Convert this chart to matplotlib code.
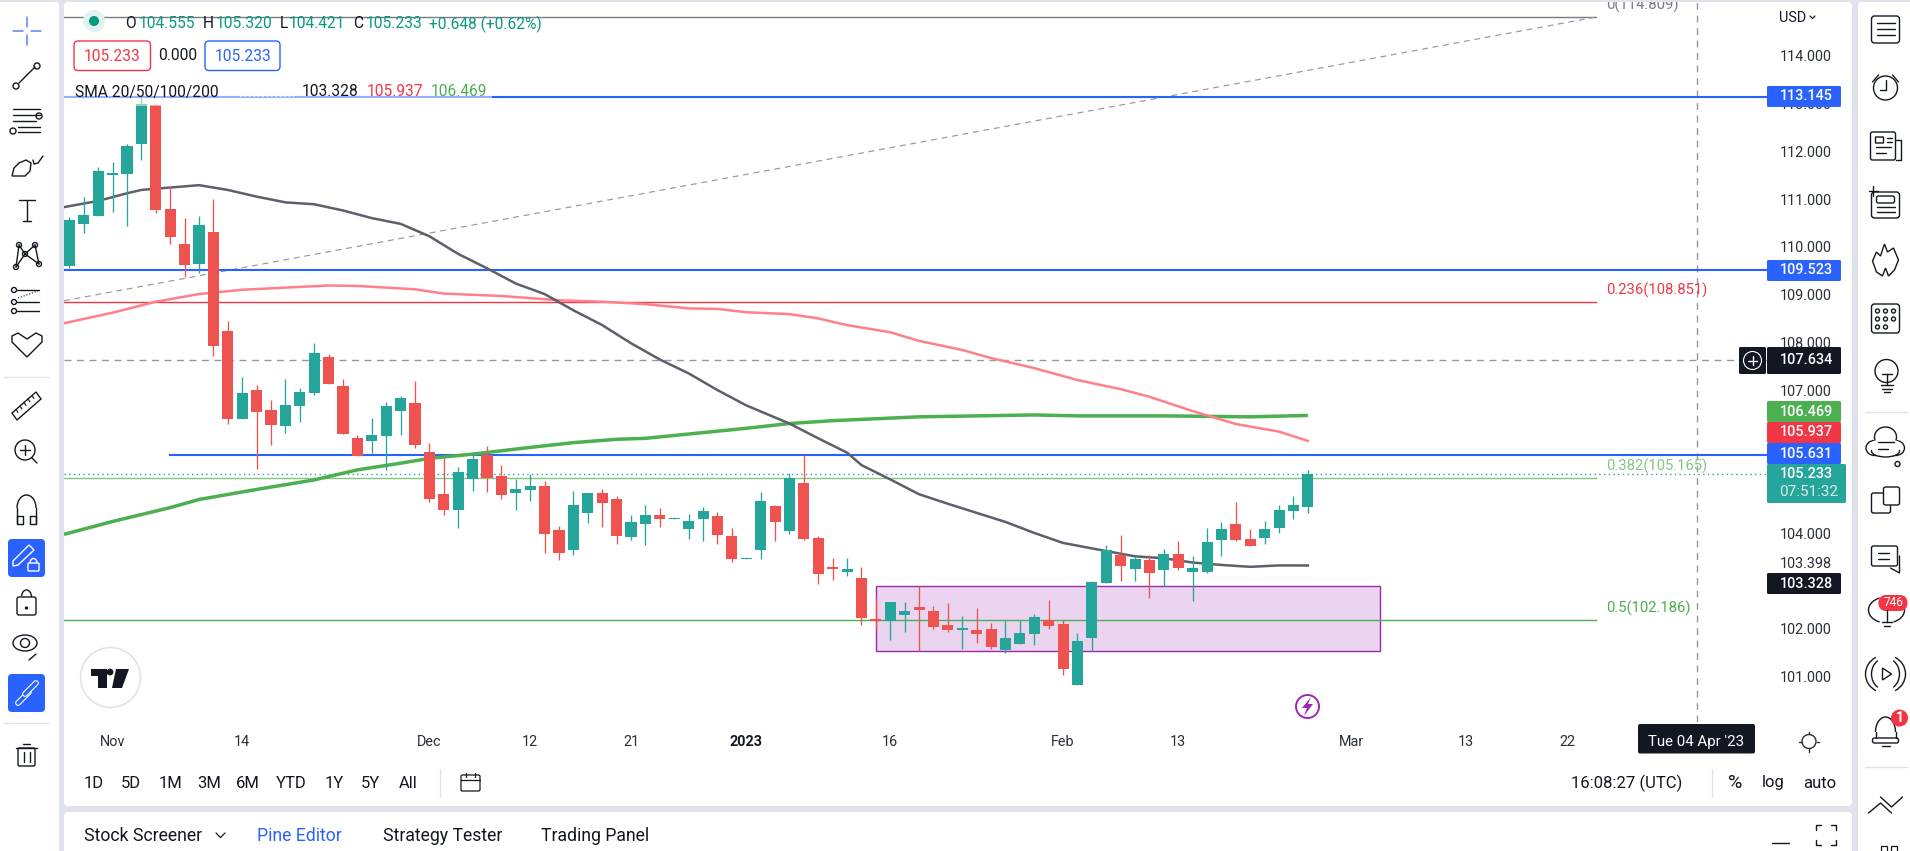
import matplotlib
matplotlib.use('Agg')
import matplotlib.pyplot as plt
from matplotlib.patches import Rectangle, Circle, FancyBboxPatch, Polygon, Arc, Ellipse

W, H = 1910, 851
plt.rcParams['font.family'] = ['Roboto', 'DejaVu Sans']
GREEN = '#26a69a'; RED = '#ef5350'; BLUE = '#2962ff'; INK = '#131722'; GREY = '#787b86'

# daily candles, values
opens = [109.60,110.47,110.64,111.50,111.52,112.15,112.96,110.79,110.06,109.64,110.31,108.24,106.39,107.00,106.58,106.25,106.67,106.94,107.69,107.08,
         105.99,105.93,106.04,106.56,106.73,105.70,104.82,104.49,105.14,105.64,105.20,104.84,104.91,104.99,104.07,103.65,104.43,104.84,104.72,103.92,
         104.20,104.38,104.30,104.09,104.30,104.36,103.94,103.46,103.65,104.57,104.05,105.05,103.90,103.30,103.19,103.06,102.21,102.17,102.29,102.46,
         102.37,102.08,101.98,101.98,102.00,101.56,101.68,101.89,102.19,102.10,100.82,101.81,102.96,103.55,103.25,103.44,103.23,103.57,103.19,103.19,
         103.86,104.20,103.88,103.90,104.11,104.47,104.555]
highs = [110.62,111.04,111.67,111.77,112.15,113.14,112.98,111.27,110.60,110.64,111.00,108.45,107.27,107.10,106.79,107.23,107.04,107.98,107.76,107.23,
         106.06,106.41,106.75,106.87,107.19,105.89,105.58,105.39,105.67,105.83,105.43,105.14,105.24,105.10,104.15,104.89,104.84,104.93,104.78,104.38,
         104.59,104.53,104.32,104.40,104.55,104.45,104.11,103.48,104.87,104.59,105.26,105.64,103.94,103.48,103.48,103.30,102.65,102.56,102.56,102.89,
         102.48,102.54,102.27,102.44,102.12,102.18,102.18,102.31,102.60,102.18,101.91,103.00,103.76,103.97,103.52,103.55,103.67,103.84,103.52,104.11,
         104.24,104.66,104.09,104.26,104.59,104.78,105.320]
lows = [109.55,110.29,110.64,110.73,110.43,111.82,110.71,110.06,109.37,109.45,107.71,106.29,106.39,105.35,105.85,106.10,106.33,106.90,107.13,106.08,
        105.62,105.68,105.33,106.06,105.79,104.66,104.38,104.11,104.89,104.87,104.72,104.49,104.68,103.59,103.44,103.55,104.22,104.13,103.78,103.86,
        103.76,104.13,104.30,103.88,103.84,103.78,103.40,103.46,103.46,103.84,103.99,103.86,102.94,103.02,103.11,102.08,101.98,101.77,101.93,101.53,
        102.00,101.93,101.58,101.70,101.58,101.50,101.68,101.66,102.00,101.03,100.82,101.53,102.96,103.00,103.00,102.65,102.90,103.23,102.58,103.17,
        103.52,103.84,103.73,103.78,104.01,104.30,104.421]
closes = [110.56,110.66,111.59,111.54,112.11,112.98,110.77,110.20,109.62,110.46,107.92,106.39,106.94,106.54,106.27,106.69,106.96,107.77,107.13,106.08,
          105.62,106.06,106.67,106.83,105.85,104.72,104.49,105.28,105.56,105.16,104.80,104.93,104.99,103.99,103.59,104.59,104.84,104.64,103.94,104.24,
          104.38,104.30,104.32,104.26,104.47,103.97,103.46,103.48,104.68,104.24,105.16,103.88,103.15,103.25,103.25,102.23,102.17,102.56,102.37,102.39,
          102.04,101.98,102.02,101.89,101.62,101.81,101.91,102.25,102.06,101.16,101.75,102.98,103.65,103.32,103.46,103.17,103.57,103.27,103.27,103.82,
          104.09,103.86,103.73,104.09,104.49,104.59,105.233]

# moving averages, read at these candle numbers (first point is the pane's left edge)
sma_dark_x = [-0.375,2,4,5,7,9,11,13,15,17,19,21,23,25,27,29,31,33,35,37,39,41,43,45,47,50,52,54,55,57,59,61,63,65,67,69,72,74,76,78,80,82,84,86]
sma_dark = [110.83,110.96,111.12,111.19,111.24,111.29,111.19,111.05,110.93,110.89,110.76,110.60,110.48,110.22,109.85,109.55,109.23,109.01,108.67,108.36,
            107.98,107.64,107.35,107.00,106.68,106.30,105.99,105.69,105.43,105.13,104.82,104.62,104.43,104.24,104.01,103.80,103.63,103.52,103.48,103.39,
            103.34,103.30,103.33,103.328]
sma_red_x = [-0.375,3,6,9,12,16,18,20,24,26,30,34,37,40,43,45,47,50,52,54,57,59,62,64,67,70,73,75,78,81,84,86]
sma_red = [108.40,108.62,108.85,109.01,109.10,109.16,109.19,109.18,109.11,109.02,108.97,108.88,108.85,108.80,108.71,108.70,108.63,108.59,108.50,108.36,
           108.21,108.03,107.84,107.67,107.46,107.21,107.02,106.86,106.56,106.29,106.13,105.937]
sma_green_x = [-0.375,3,7,9,13,17,20,23,25,28,32,35,38,40,47,50,53,59,67,70,76,82,86]
sma_green = [103.98,104.25,104.54,104.71,104.92,105.12,105.33,105.47,105.57,105.66,105.80,105.90,105.97,105.99,106.20,106.30,106.36,106.44,106.48,106.46,106.46,106.44,106.469]

# drawings
blue_levels = [113.145, 109.523, 105.631]
blue_starts = [-0.375, -0.375, 7]
fib_levels = [114.809, 108.851, 105.165, 102.186]
fib_names = ['0(114.809)', '0.236(108.851)', '0.382(105.165)', '0.5(102.186)']
fib_colors = ['#787b86', '#f23645', '#81c784', '#4caf50']
trend_x = [-0.375, 106]
trend_y = [108.87, 114.809]
alert_level = 107.634
last_price = 105.233
box_x = [56, 91]
box_y = [101.53, 102.89]
cursor_x = 113

y_ticks = [114, 113, 112, 111, 110, 109, 108, 107, 104, 103.398, 102, 101]
x_tick_pos = [3, 12, 25, 32, 39, 47, 57, 69, 77, 89, 97, 104]
x_tick_labels = ['Nov', '14', 'Dec', '12', '21', '2023', '16', 'Feb', '13', 'Mar', '13', '22']

fig = plt.figure(figsize=(W/100, H/100), dpi=100, facecolor='#e0e3eb')

def px_axes(z):
    a = fig.add_axes([0, 0, 1, 1], zorder=z)
    a.set_xlim(0, W); a.set_ylim(H, 0); a.axis('off'); a.patch.set_alpha(0)
    return a

bg = px_axes(0)
for x0, y0, x1, y1 in [(-8, 2, 59, 860), (64, 2, 1852, 806), (64, 812, 1852, 860), (1858, 2, 1920, 860)]:
    bg.add_patch(FancyBboxPatch((x0+4, y0+4), x1-x0-8, y1-y0-8, boxstyle='round,pad=4,rounding_size=4', fc='white', ec='none'))

# price chart
ax = fig.add_axes([64/W, 1-722/H, (1767-64)/W, 720/H], zorder=1)
ax.patch.set_alpha(0)
ax.set_xlim(-0.375, 117.88)
ax.set_ylim(114-(722-55.7)/47.77, 114+(55.7-2)/47.77)
for s in ax.spines.values():
    s.set_visible(False)
ax.yaxis.tick_right()
ax.set_yticks(y_ticks, [f'{v:.3f}' for v in y_ticks])
ax.set_xticks(x_tick_pos, x_tick_labels)
ax.tick_params(axis='y', length=0, pad=9.5, labelsize=10.4, labelcolor='#2a2e39')
ax.tick_params(axis='x', length=0, pad=9, labelsize=10.4, labelcolor='#2a2e39')
for t in ax.get_xticklabels():
    if t.get_text() == '2023':
        t.set_fontweight('bold'); t.set_color(INK)

ax.add_patch(Rectangle((box_x[0], box_y[0]), box_x[1]-box_x[0], box_y[1]-box_y[0], fc='#ebd4ef', ec='#9c27b0', lw=1.0, zorder=1))
for lvl, c, nm in zip(fib_levels, fib_colors, fib_names):
    ax.plot([-0.375, 106], [lvl, lvl], color=c, lw=1.0, zorder=2)
    dy = 12 if lvl == 114.809 else 11.5
    ax.annotate(nm, (106, lvl), xytext=(10, dy), textcoords='offset pixels', color=c, fontsize=10.7, va='center', annotation_clip=False, clip_on=True)
ax.plot(trend_x, trend_y, color='#9598a1', lw=0.85, dashes=(5, 4), zorder=2)
ax.axhline(alert_level, color='#9598a1', lw=1.0, dashes=(5, 4), zorder=2)
ax.plot([cursor_x, cursor_x], [ax.get_ylim()[0], ax.get_ylim()[1]], color='#9598a1', lw=1.0, dashes=(5, 4), zorder=2)
ax.axhline(last_price, color=GREEN, lw=1.0, dashes=(1, 2.4), zorder=2)
for lvl, x0 in zip(blue_levels, blue_starts):
    ax.plot([x0, 117.88], [lvl, lvl], color=BLUE, lw=1.5, zorder=3)

ax.plot(sma_green_x, sma_green, color='#4caf50', lw=2.5, zorder=4, solid_capstyle='butt')
ax.plot(sma_red_x, sma_red, color='#ff7f8a', lw=1.8, zorder=4)
ax.plot(sma_dark_x, sma_dark, color='#5d606b', lw=1.8, zorder=4)

idx = list(range(len(opens)))
cols = [GREEN if c >= o else RED for o, c in zip(opens, closes)]
ax.vlines(idx, lows, highs, colors=cols, lw=0.95, zorder=5)
ax.bar(idx, [max(abs(c-o), 0.03) for o, c in zip(opens, closes)], bottom=[min(o, c) for o, c in zip(opens, closes)],
       width=0.77, color=cols, zorder=6)

# everything below is the terminal frame, in screen pixels
ui = px_axes(2)

def txt(x, y, s, c=INK, size=10.4, ha='center', **kw):
    ui.text(x, y, s, color=c, fontsize=size, ha=ha, va='center', **kw)

def ln(xs, ys, c=INK, lw=1.0, **kw):
    ui.plot(xs, ys, color=c, lw=lw, solid_capstyle='round', **kw)

def ring(x, y, r, c=INK, lw=1.0, fc='none'):
    ui.add_patch(Circle((x, y), r, fc=fc, ec=c, lw=lw))

def rbox(x0, y0, x1, y1, fc='none', ec=INK, r=3, lw=1.0):
    ui.add_patch(FancyBboxPatch((x0+r, y0+r), x1-x0-2*r, y1-y0-2*r, boxstyle=f'round,pad={r},rounding_size={r}', fc=fc, ec=ec, lw=lw))

# legend
LEG = 11.2
ui.add_patch(Rectangle((64, 82), 428, 24, fc='white', alpha=0.5, ec='none'))
ln([240, 294], [96, 96], 'white', 1.2, ls=':')
ring(94, 21, 11, 'none', 0, '#dff3ef'); ring(94, 21, 5, 'none', 0, '#089981')
for x, lab, val in [(125.5, 'O', '104.555'), (203, 'H', '105.320'), (279.5, 'L', '104.421'), (353, 'C', '105.233')]:
    txt(x, 24, lab, size=LEG, ha='left'); txt(x+(13 if lab in 'OCH' else 9), 24, val, '#089981', size=LEG, ha='left')
txt(428.5, 24, '+0.648 (+0.62%)', '#089981', size=LEG, ha='left')
rbox(74, 41, 150.5, 70.5, 'white', '#f23645', 4)
txt(112, 56.5, '105.233', '#f23645', size=LEG)
txt(177.5, 56, '0.000', size=LEG)
rbox(205, 41, 280, 70.5, 'white', BLUE, 4)
txt(243, 56.5, '105.233', BLUE, size=LEG)
txt(75, 92, 'SMA 20/50/100/200', size=LEG, ha='left')
txt(302, 92, '103.328', size=LEG, ha='left'); txt(366.5, 92, '105.937', '#f23645', size=LEG, ha='left'); txt(431, 92, '106.469', '#4caf50', size=LEG, ha='left')

# price axis tags
tags = [('113.145', 86, 107, BLUE, 1841), ('109.523', 260, 281, BLUE, 1841), ('106.469', 401, 422, '#4caf50', 1841),
        ('105.937', 422, 443, '#f23645', 1841), ('105.631', 443, 464, BLUE, 1841), ('103.328', 573, 594, INK, 1841)]
for s, y0, y1, c, x1 in tags:
    rbox(1767, y0, x1, y1, c, 'none', 1.5, 0)
    txt(1806.5, (y0+y1)/2, s, 'white', fontweight='medium')
rbox(1767, 347, 1841, 374, INK, 'none', 1.5, 0)
txt(1806.5, 360.5, '107.634', 'white', fontweight='medium')
rbox(1739, 347, 1766, 374, INK, 'none', 1.5, 0)
ring(1752.5, 360.5, 9, 'white', 0.8)
ln([1748, 1757], [360.5, 360.5], 'white'); ln([1752.5, 1752.5], [356, 365], 'white')
rbox(1767, 464, 1846, 503, GREEN, 'none', 1.5, 0)
txt(1806.5, 474.5, '105.233', 'white', fontweight='medium')
txt(1808.5, 492.5, '07:51:32', '#d4efec', size=11)
txt(1779, 17.5, 'USD', ha='left', size=10.4)
ln([1810, 1812.5, 1815], [16, 18.5, 16], INK, 0.9)

# time axis and bottom bar
rbox(1638, 724, 1755, 753.5, INK, 'none', 2, 0)
txt(1696.5, 742, "Tue 04 Apr '23", 'white', size=10.8)
ring(1809, 741.5, 7, '#2a2e39', 1.0)
for dx, dy in [(0, -10), (0, 10), (-10, 0), (10, 0)]:
    ln([1809+dx*0.75, 1809+dx], [741.5+dy*0.75, 741.5+dy], '#2a2e39', 1.0)
for x, s in [(94, '1D'), (131, '5D'), (170, '1M'), (209, '3M'), (248, '6M'), (291, 'YTD'), (334, '1Y'), (370.5, '5Y'), (408, 'All')]:
    txt(x, 783, s, size=12)
ln([439.5, 439.5], [769, 797], '#e0e3eb')
rbox(461, 775, 480, 791, 'none', INK, 1.5, 0.9)
ln([461, 480], [780, 780], INK, 0.9)
ln([466, 466], [772.5, 777], INK, 0.9); ln([475, 475], [772.5, 777], INK, 0.9)
txt(1627, 783, '16:08:27 (UTC)', size=12)
ln([1711.5, 1711.5], [769, 797], '#e0e3eb')
txt(1735, 783, '%', size=14); txt(1773.5, 782, 'log', size=12); txt(1820, 783, 'auto', size=12)
txt(84, 836, 'Stock Screener', ha='left', size=12.7)
ln([216, 220.5, 225], [833, 837.5, 833], INK, 0.9)
txt(257, 836, 'Pine Editor', BLUE, ha='left', size=12.7)
txt(382.5, 836, 'Strategy Tester', ha='left', size=12.7)
txt(541, 836, 'Trading Panel', ha='left', size=12.7)
ln([1772, 1789], [843, 843], INK, 1.0)
for sx, sy in [(-1, -1), (1, -1), (-1, 1), (1, 1)]:
    ln([1825.5+sx*10, 1825.5+sx*10, 1825.5+sx*5], [835+sy*5, 835+sy*10, 835+sy*10], INK, 1.0)

# earnings badge on the chart
ring(1307.5, 706.5, 11.5, '#9c27b0', 1.4, 'white')
ui.add_patch(Polygon([(1311, 697), (1302, 708), (1307, 708), (1304, 716), (1313, 704), (1308, 704)], fc='#9c27b0', ec='none'))

# logo
ring(110.5, 677.5, 30, '#e0e3eb', 1.2, 'white')
ui.add_patch(Polygon([(91, 669), (107, 669), (107, 688), (98, 688), (98, 676), (91, 676)], fc=INK, ec='none'))
ring(110, 672, 3.4, 'none', 0, INK)
ui.add_patch(Polygon([(116, 669), (129, 669), (122, 688), (112, 688)], fc=INK, ec='none'))

# left toolbar
LX = 27
ln([LX, LX], [17, 27], '#5b83f6', 1.1); ln([LX, LX], [35, 45], '#5b83f6', 1.1)
ln([13, 23], [31, 31], '#5b83f6', 1.1); ln([31, 41], [31, 31], '#5b83f6', 1.1)
ln([19, 35], [83, 67]); ring(16, 86, 3, INK, 1.0, 'white'); ring(37, 66, 3, INK, 1.0, 'white')
for y, x0, x1 in [(109, 13, 40), (115, 13, 40), (121, 13, 36), (127, 18, 40), (132, 18, 40)]:
    ln([x0, x1], [y, y])
ring(39, 116, 3, INK, 1.0, 'white'); ring(13, 131, 3, INK, 1.0, 'white')
ui.add_patch(Polygon([(12, 176), (14, 168), (19, 163), (26, 160), (31, 163), (30, 171), (25, 176)], fc='none', ec=INK, lw=1.0))
ln([33, 34, 38, 43], [160, 164, 163, 156])
ln([27, 27], [200, 221]); ln([19, 35], [200, 200]); ln([23, 31], [221, 221])
for (x0, y0), (x1, y1) in [((16, 267), (19, 245)), ((19, 245), (25, 254)), ((25, 254), (35, 245)), ((35, 245), (39, 264)), ((16, 267), (25, 254)), ((25, 254), (39, 264))]:
    ln([x0, x1], [y0, y1])
for x, y in [(16, 267), (19, 245), (25, 254), (35, 245), (39, 264)]:
    ring(x, y, 2.5, INK, 1.0, 'white')
for y in (290, 302, 311):
    ln([17, 39], [y, y]); ring(14, y, 2.5, INK, 1.0, 'white')
ln([18, 38], [298, 291], INK, 0.8, ls=':')
ui.add_patch(Polygon([(27, 357), (12, 342), (12, 336), (18, 333), (27, 339), (36, 333), (42, 336), (42, 342)], fc='none', ec=INK, lw=1.0))
ln([4, 49], [377, 377], '#e0e3eb')
ui.add_patch(Polygon([(12, 413), (36, 392), (41, 399), (17, 420)], fc='none', ec=INK, lw=1.0))
for k in range(1, 6):
    ln([12+4*k, 14+4*k], [413-3.5*k, 416-3.5*k], INK, 0.8)
ring(25, 450, 10); ln([32, 37], [458, 463]); ln([20, 30], [450, 450]); ln([25, 25], [445, 455])
ln([17, 17], [523, 508]); ln([36, 36], [523, 508])
ui.add_patch(Arc((26.5, 508), 19, 26, theta1=180, theta2=360, ec=INK, lw=1.0))
ln([17, 23, 23, 17, 17], [516, 516, 524, 524, 516]); ln([30, 36, 36, 30, 30], [516, 516, 524, 524, 516])
rbox(8, 539, 45, 577, BLUE, 'none', 4, 0)
ui.add_patch(Polygon([(13, 561), (29, 545), (34, 550), (18, 565), (13, 566)], fc='none', ec='white', lw=1.0))
rbox(28, 563, 39, 571, 'none', 'white', 1, 1.0)
ui.add_patch(Arc((33.5, 563), 7, 9, theta1=180, theta2=360, ec='white', lw=1.0))
rbox(17, 597, 36, 615, 'none', INK, 2, 1.0)
ui.add_patch(Arc((26.5, 597), 10, 14, theta1=190, theta2=360, ec=INK, lw=1.0))
ring(26.5, 608, 1, INK, 1, INK)
ui.add_patch(Ellipse((25, 643), 24, 16, fc='none', ec=INK, lw=1.0)); ring(25, 643, 4.5)
ln([29, 36], [660, 654])
rbox(8, 674, 45, 712, BLUE, 'none', 4, 0)
ln([18, 29], [703, 692], 'white', 4.2); ln([18, 29], [703, 692], BLUE, 2.6)
ln([25, 36], [694, 683], 'white', 4.2); ln([25, 36], [694, 683], BLUE, 2.6)
ln([4, 49], [723, 723], '#e0e3eb')
rbox(18, 748, 35, 766, 'none', INK, 1.5, 1.0); ln([16, 37], [748, 748]); ln([23, 30], [744, 744])
ln([23.5, 23.5], [752, 762]); ln([29.5, 29.5], [752, 762])

# right toolbar
RX = 1885.5
rbox(RX-14, 16, RX+14, 43, 'none', INK, 3)
for y in (23, 29, 35):
    ln([RX-9, RX+9], [y, y])
ring(RX, 88, 12); ln([RX, RX, RX-6], [80, 90, 90]); ln([RX-13, RX-7], [82, 75]); ln([RX+13, RX+7], [82, 75])
rbox(RX-15, 132, RX+10, 160, 'none', INK, 2)
ln([RX+10, RX+15, RX+15, RX+10], [140, 140, 160, 160])
for y, x1 in [(147, 5), (153, 0)]:
    ln([RX-10, RX+x1], [y, y])
rbox(RX-10, 137, RX-2, 143, 'none', INK, 0.5)
ln([RX+1, RX+6], [138, 138]); ln([RX+1, RX+6], [142, 142])
rbox(RX-14, 192, RX+14, 218, 'white', INK, 3)
rbox(RX-9, 196, RX+9, 203, 'none', INK, 2)
ln([RX-9, RX+9], [207, 207]); ln([RX-9, RX+9], [212, 212])
ln([RX-17, RX-8], [191, 191]); ln([RX-12.5, RX-12.5], [186, 196])
ui.add_patch(Polygon([(RX-1, 244), (RX+2, 252), (RX+8, 248), (RX+13, 260), (RX+9, 270), (RX+3, 276), (RX, 268), (RX-3, 276), (RX-9, 272), (RX-13, 261), (RX-9, 252), (RX-5, 256)], fc='none', ec=INK, lw=1.0))
rbox(RX-14, 304, RX+14, 333, 'none', INK, 3)
for y in (311, 319, 327):
    for dx in (-8, 0, 8) if y < 327 else (-8, 0):
        ring(RX+dx, y, 2)
ring(RX+1, 371, 11.5)
ln([RX-4, RX+6], [374, 374]); ln([RX+1, RX+1], [374, 385])
ln([RX-5, RX+7], [385, 385]); ln([RX-4, RX+6], [389, 389]); ln([RX-2, RX+4], [392, 392])
ln([RX-21, RX+21], [412, 412], '#e0e3eb')
for ex, ey, ew, eh in [(RX-11, 448, 17, 15), (RX+10, 448, 18, 15), (RX, 437, 22, 20), (RX, 451, 28, 12)]:
    ui.add_patch(Ellipse((ex, ey), ew, eh, fc='white', ec=INK, lw=1.0))
ui.add_patch(Ellipse((RX, 446), 34, 14, fc='white', ec='none'))
ln([RX-8, RX+8], [442, 442]); ln([RX-8, RX+2], [449, 449]); ring(RX+12, 464, 2.5)
rbox(RX-14, 493, RX+5, 513, 'none', INK, 2); rbox(RX-2, 487, RX+14, 505, 'white', INK, 2)
rbox(RX-14, 546, RX+12, 566, 'none', INK, 2)
ln([RX-8, RX+3], [553, 553]); ln([RX-8, RX+3], [559, 559]); ln([RX+14, RX+14, RX+5], [556, 573, 568])
ring(RX+1, 603, 7); ln([RX+1, RX+1], [610, 622]); ln([RX-4, RX+6], [622, 622]); ln([RX-2, RX+4], [626, 626])
ui.add_patch(Arc((RX+1, 610), 36, 26, theta1=120, theta2=240, ec=INK, lw=1.0)); ui.add_patch(Arc((RX+1, 610), 36, 26, theta1=300, theta2=60, ec=INK, lw=1.0))
rbox(RX-7, 595, RX+22, 611, '#f23645', 'none', 8, 0)
txt(RX+7.5, 603, '746', 'white', size=8.5)
ui.add_patch(Arc((RX, 674), 28, 32, theta1=120, theta2=240, ec=INK, lw=1.0)); ui.add_patch(Arc((RX, 674), 28, 32, theta1=300, theta2=60, ec=INK, lw=1.0))
ui.add_patch(Arc((RX, 674), 40, 38, theta1=120, theta2=240, ec=INK, lw=1.0)); ui.add_patch(Arc((RX, 674), 40, 38, theta1=300, theta2=60, ec=INK, lw=1.0))
ui.add_patch(Polygon([(RX-3, 668), (RX+6, 674), (RX-3, 680)], fc='none', ec=INK, lw=1.0))
ui.add_patch(Arc((RX, 732), 20, 30, theta1=180, theta2=360, ec=INK, lw=1.0))
ln([RX-10, RX-10], [732, 738]); ln([RX+10, RX+10], [732, 738]); rbox(RX-13, 738, RX+13, 743, 'none', INK, 2)
ln([RX-4, RX+4], [746, 746])
ring(RX+14, 718, 8.5, 'none', 0, '#f23645'); txt(RX+14, 718, '1', 'white', size=10, fontweight='bold')
ln([RX-21, RX+21], [767, 767], '#e0e3eb')
ln([RX-17, RX-5, RX+6], [813, 803, 813]); ln([RX-5, RX+6, RX+17], [797, 807, 797])
ui.add_patch(Rectangle((RX-5, 846), 6, 6, fc='none', ec=INK, lw=0.9)); ui.add_patch(Rectangle((RX+5, 846), 6, 6, fc='none', ec=INK, lw=0.9))

ui.set_xlim(0, W); ui.set_ylim(H, 0)
fig.savefig('out.png', dpi=100, facecolor=fig.get_facecolor())
